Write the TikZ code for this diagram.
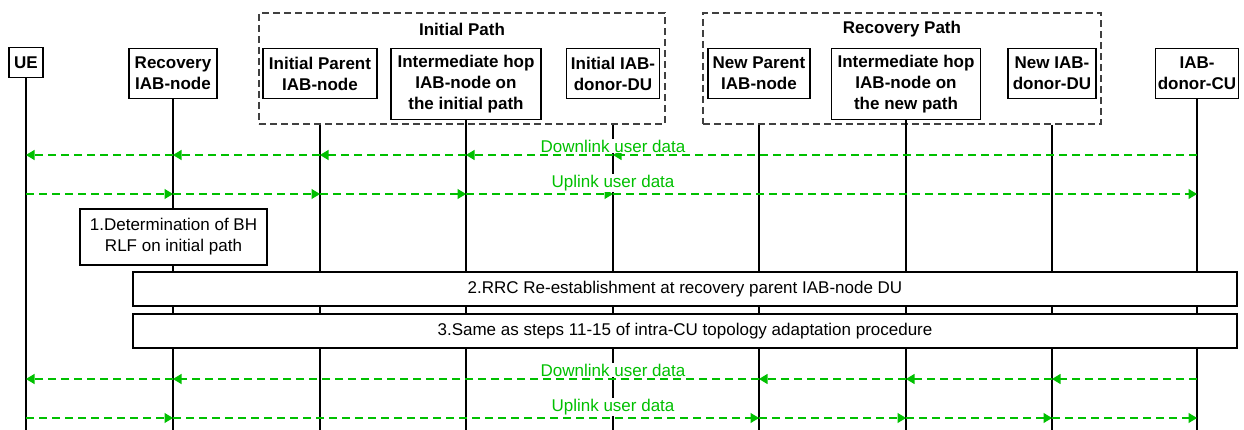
\documentclass[tikz,border=0pt]{standalone}
\usepackage{fontspec}
\setmainfont{Liberation Sans}
\usetikzlibrary{arrows.meta}
\definecolor{msggreen}{RGB}{0,192,0}
\tikzset{
    entity/.style={draw, line width=1.2pt, font=\fontsize{17}{21}\selectfont\bfseries, align=center, inner sep=2pt, fill=white, anchor=north},
    pathbox/.style={draw=black!75, line width=1.2pt, dash pattern=on 7pt off 4pt},
    pathlabel/.style={font=\fontsize{17}{21}\selectfont\bfseries},
    stepbox/.style={draw, line width=1.2pt, fill=white, align=center},
    life/.style={line width=1.1pt},
    msg/.style={msggreen, line width=1.2pt, dash pattern=on 8pt off 5pt, -{Triangle[length=8.5pt,width=10pt]}},
    msglabel/.style={text=msggreen, fill=white, inner sep=1pt},
}

\begin{document}
\begin{tikzpicture}[x=1pt, y=-1pt, font=\fontsize{17}{21}\selectfont]
    \useasboundingbox (0,0) rectangle (1244,430);
    % path groups
    \path ( 462, 68.5) node [pathbox, minimum width=406pt, minimum height=111pt] (initpath) {};
    \path ( 462,   29) node [pathlabel] (initlabel) {Initial Path};
    \path ( 902, 68.5) node [pathbox, minimum width=398pt, minimum height=111pt] (recpath) {};
    \path ( 902,   29) node [pathlabel] (reclabel) {Recovery Path};
    % entities
    \path (  26,   47) node [entity, minimum width=34pt, minimum height=30pt] (ue) {UE};
    \path ( 173,   48) node [entity, minimum width=88pt, minimum height=50pt] (recov) {Recovery\\IAB-node};
    \path ( 320,   48) node [entity, minimum width=114pt, minimum height=50pt] (iparent) {Initial Parent\\IAB-node};
    \path ( 466,   48) node [entity, minimum width=150pt, minimum height=71pt] (ihop) {Intermediate hop\\IAB-node on\\the initial path};
    \path ( 613,   48) node [entity, minimum width=93pt, minimum height=50pt] (idonordu) {Initial IAB-\\donor-DU};
    \path ( 759,   48) node [entity, minimum width=102pt, minimum height=50pt] (nparent) {New Parent\\IAB-node};
    \path ( 906,   48) node [entity, minimum width=149pt, minimum height=71pt] (nhop) {Intermediate hop\\IAB-node on\\the new path};
    \path (1052,   48) node [entity, minimum width=88pt, minimum height=50pt] (ndonordu) {New IAB-\\donor-DU};
    \path (1197,   48) node [entity, minimum width=83pt, minimum height=50pt] (donorcu) {IAB-\\donor-CU};
    % lifelines
    \coordinate (bottom) at (0,430);
    \foreach \n in {ue, recov, ihop, nhop, donorcu}
        \draw [life] (\n.south) -- (\n |- bottom);
    \foreach \n in {iparent, idonordu}
        \draw [life] (\n |- initpath.south) -- (\n |- bottom);
    \foreach \n in {nparent, ndonordu}
        \draw [life] (\n |- recpath.south) -- (\n |- bottom);
    % steps
    \path ( 173.5, 237) node [stepbox, minimum width=187pt, minimum height=56pt] (rlf) {1.Determination of BH\\RLF on initial path};
    \path ( 685,   289) node [stepbox, minimum width=1104pt, minimum height=34pt] (rrc) {2.RRC Re-establishment at recovery parent IAB-node DU};
    \path ( 685,   331) node [stepbox, minimum width=1104pt, minimum height=34pt] (adapt) {3.Same as steps 11-15 of intra-CU topology adaptation procedure};
    % user data
    \coordinate (dlone) at (0,155);
    \coordinate (ulone) at (0,194);
    \coordinate (dltwo) at (0,379);
    \coordinate (ultwo) at (0,418);
    \foreach \a/\b in {donorcu/idonordu, idonordu/ihop, ihop/iparent, iparent/recov, recov/ue}
        \draw [msg] (\a |- dlone) -- (\b |- dlone);
    \foreach \a/\b in {ue/recov, recov/iparent, iparent/ihop, ihop/idonordu, idonordu/donorcu}
        \draw [msg] (\a |- ulone) -- (\b |- ulone);
    \foreach \a/\b in {donorcu/ndonordu, ndonordu/nhop, nhop/nparent, nparent/recov, recov/ue}
        \draw [msg] (\a |- dltwo) -- (\b |- dltwo);
    \foreach \a/\b in {ue/recov, recov/nparent, nparent/nhop, nhop/ndonordu, ndonordu/donorcu}
        \draw [msg] (\a |- ultwo) -- (\b |- ultwo);
    \path (idonordu |- dlone) node [msglabel, above=1.5pt] (dlonelabel) {Downlink user data};
    \path (idonordu |- ulone) node [msglabel, above=1.5pt] (ulonelabel) {Uplink user data};
    \path (idonordu |- dltwo) node [msglabel, above=1.5pt] (dltwolabel) {Downlink user data};
    \path (idonordu |- ultwo) node [msglabel, above=1.5pt] (ultwolabel) {Uplink user data};
\end{tikzpicture}
\end{document}
